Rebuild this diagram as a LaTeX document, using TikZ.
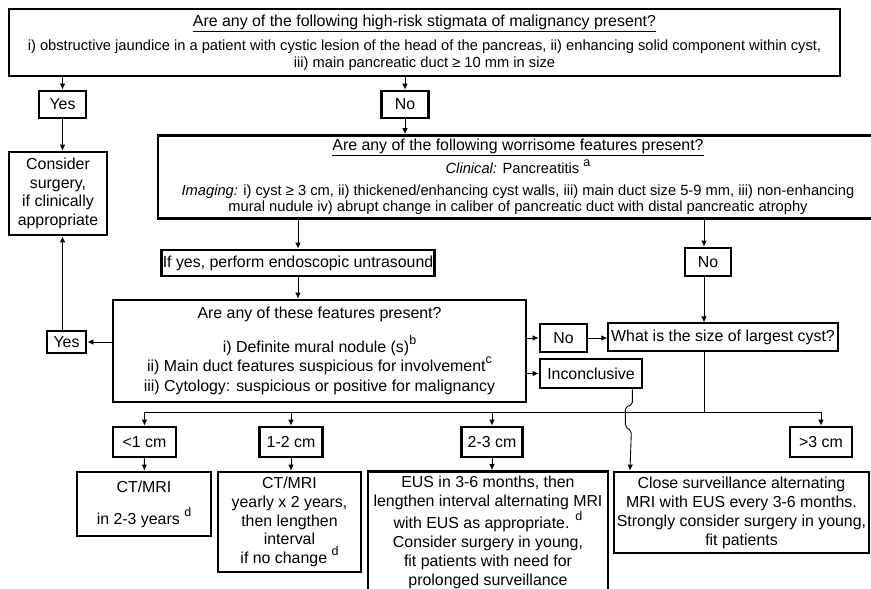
\documentclass[tikz,border=0pt]{standalone}
\usepackage{fontspec}
\setmainfont{Liberation Sans}
\usetikzlibrary{arrows.meta,calc}
\newcommand\smallbody{\fontsize{14.7}{16.5}\selectfont}
\newcommand\supmark[1]{\raisebox{0.5em}{\fontsize{12.5}{12}\selectfont #1}}

\begin{document}
\begin{tikzpicture}[x=1pt,y=-1pt,
  box/.style={draw,line width=2.7pt,align=center,inner sep=0pt,
    font=\fontsize{15.9}{19}\selectfont},
  thinbox/.style={box,line width=1.1pt},
  arr/.style={line width=0.9pt,-{Latex[length=6pt,width=5.5pt]}},
  ln/.style={line width=0.9pt}]
  \useasboundingbox (0,0) rectangle (871,589);
  % high-risk stigmata
  \node[box,minimum width=831pt,minimum height=67pt,
    font=\fontsize{15.9}{16.5}\selectfont] (top) at (424.5,42.5)
    {\underline{Are any of the following high-risk stigmata of malignancy present?}\\[8pt]
     \smallbody i) obstructive jaundice in a patient with cystic lesion of the head of the pancreas, ii) enhancing solid component within cyst,\\
     \smallbody iii) main pancreatic duct ≥ 10 mm in size};
  \node[box,minimum width=47pt,minimum height=27pt] (yes1) at (62.5,104.5) {Yes};
  \node[box,minimum width=47pt,minimum height=27pt] (no1) at (405,104.5) {No};
  \node[box,minimum width=98pt,minimum height=83pt,
    font=\fontsize{15.9}{18.5}\selectfont] (consider) at (58,193.5)
    {Consider\\ surgery,\\ if clinically\\ appropriate};
  % worrisome features
  \node[box,minimum width=720pt,minimum height=83pt,
    font=\fontsize{15.9}{16.5}\selectfont] (worr) at (518,177)
    {\underline{Are any of the following worrisome features present?}\\[3pt]
     \smallbody \textit{Clinical:} Pancreatitis \supmark{a}\\[5pt]
     \smallbody \textit{Imaging:} i) cyst ≥ 3 cm, ii) thickened/enhancing cyst walls, iii) main duct size 5-9 mm, iii) non-enhancing\\
     \smallbody mural nudule iv) abrupt change in caliber of pancreatic duct with distal pancreatic atrophy};
  \node[box,minimum width=273pt,minimum height=26pt] (ifyes) at (298,263)
    {If yes, perform endoscopic untrasound};
  \node[box,minimum width=46pt,minimum height=28pt] (no2) at (708,262) {No};
  % EUS features
  \node[box,minimum width=413pt,minimum height=102pt,
    font=\fontsize{15.9}{19.5}\selectfont] (feat) at (319.5,351)
    {Are any of these features present?\\[12pt]
     i) Definite mural nodule (s)\supmark{b}\\
     ii) Main duct features suspicious for involvement\supmark{c}\\
     iii) Cytology: suspicious or positive for malignancy};
  \node[box,minimum width=39pt,minimum height=22pt] (yes2) at (66.5,342) {Yes};
  \node[box,minimum width=47pt,minimum height=28pt] (no3) at (563.5,338) {No};
  \node[box,minimum width=102pt,minimum height=29pt] (inconc) at (591,373.5) {Inconclusive};
  \node[thinbox,minimum width=230pt,minimum height=28pt] (what) at (723,337)
    {What is the size of largest cyst?};
  % cyst size
  \coordinate (bus) at (704,412);
  \node[box,minimum width=63pt,minimum height=30pt] (lt1) at (144.5,442) {<1 cm};
  \node[box,minimum width=63pt,minimum height=30pt] (s12) at (291,442) {1-2 cm};
  \node[box,minimum width=61pt,minimum height=30pt] (s23) at (492,442) {2-3 cm};
  \node[box,minimum width=62pt,minimum height=30pt] (gt3) at (821,442) {>3 cm};
  \node[box,minimum width=134pt,minimum height=64pt] (b1) at (144,504)
    {CT/MRI\\[13pt] in 2-3 years \supmark{d}};
  \node[box,minimum width=143pt,minimum height=100pt,
    font=\fontsize{15.9}{18.7}\selectfont] (b2) at (289.5,522)
    {CT/MRI\\ yearly x 2 years,\\ then lengthen\\ interval\\ if no change \supmark{d}};
  \node[box,minimum width=240pt,minimum height=122pt,
    font=\fontsize{15.9}{19}\selectfont] (b3) at (488,532.5)
    {EUS in 3-6 months, then\\ lengthen interval alternating MRI\\
     with EUS as appropriate. \supmark{d}\\ Consider surgery in young,\\
     fit patients with need for\\ prolonged surveillance};
  \node[box,minimum width=255pt,minimum height=81pt,
    font=\fontsize{15.9}{19}\selectfont] (b4) at (741.5,512.5)
    {Close surveillance alternating\\ MRI with EUS every 3-6 months.\\
     Strongly consider surgery in young,\\ fit patients};
  % connectors
  \draw[arr] (top.south -| yes1) -- (yes1);
  \draw[arr] (top.south -| no1) -- (no1);
  \draw[arr] (yes1.south) -- (yes1 |- consider.north);
  \draw[arr] (no1.south) -- (no1 |- worr.north);
  \draw[arr] (worr.south -| ifyes) -- (ifyes);
  \draw[arr] (worr.south -| 704,0) -- (no2.north -| 704,0);
  \draw[arr] (no2.south -| 704,0) -- (what.north -| 704,0);
  \draw[arr] (ifyes.south) -- (ifyes |- feat.north);
  \draw[arr] (feat.west |- yes2) -- (yes2);
  \draw[arr] (yes2.north -| yes1) -- (yes1 |- consider.south);
  \draw[arr] (feat.east |- no3) -- (no3);
  \draw[arr] (feat.east |- inconc) -- (inconc);
  \draw[arr] (no3.east) -- (no3.east -| what.west);
  \draw[ln] (what.south -| bus) -- (bus);
  \draw[ln] (lt1 |- bus) -- (gt3 |- bus);
  \foreach \n in {lt1,s12,s23,gt3}
    \draw[arr] (\n |- bus) -- (\n);
  \draw[arr] (lt1) -- (b1);
  \draw[arr] (s12.south) -- (s12 |- b2.north);
  \draw[arr] (s23.south) -- (s23 |- b3.north);
  \draw[arr,rounded corners=2pt] ([xshift=-11pt]inconc.south east) -- ++(0,15)
    -- ++(-7,3) -- ++(0,19) -- ++(6,5) -- (b4.north -| 630,0);
\end{tikzpicture}
\end{document}
